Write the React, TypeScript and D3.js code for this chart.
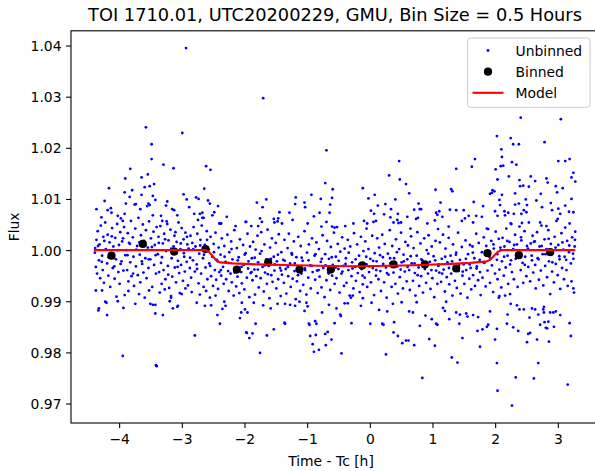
import React from 'react';
import * as d3 from 'd3';

const chartTitle = 'TOI 1710.01, UTC20200229, GMU, Bin Size = 0.5 Hours';
const xLabel = 'Time - Tc [h]';
const yLabel = 'Flux';
const xTicks = [-4, -3, -2, -1, 0, 1, 2, 3];
const yTicks = [0.97, 0.98, 0.99, 1.0, 1.01, 1.02, 1.03, 1.04];
const legendLabels = ['Unbinned', 'Binned', 'Model'];

const binTime = [-4.13, -3.63, -3.13, -2.63, -2.13, -1.63, -1.13, -0.63, -0.13, 0.37, 0.87, 1.37, 1.87, 2.37, 2.87];
const binFlux = [0.9990, 1.0013, 0.9998, 1.0003, 0.9963, 0.9977, 0.9963, 0.9963, 0.9971, 0.9973, 0.9973, 0.9965, 0.9995, 0.9991, 0.9997];

const modelTime = [-4.41, -2.64, -2.58, -2.52, -2.46, -2.40, -2.2, -1.8, -1.2, -0.6, -0.26, 0.1, 0.7, 1.3, 1.6, 1.86, 1.92, 1.98, 2.04, 2.10, 2.14, 3.27];
const modelFlux = [1.0001, 1.0001, 0.9998, 0.9990, 0.9981, 0.9977, 0.9975, 0.9973, 0.99715, 0.9970, 0.99695, 0.9970, 0.99715, 0.9974, 0.9976, 0.9979, 0.9983, 0.9991, 0.9998, 1.0001, 1.0001, 1.0001];

const unbinned: [number, number][] = [
  // -4.4 .. -3.9
  [-4.17,1.0122],[-3.92,1.0114],[-4.24,1.0097],[-4.37,1.0081],[-4.14,1.0083],[-4.19,1.0079],[-4.13,1.0074],[-4.29,1.0065],[-4.03,1.0068],[-3.98,1.0063],[-3.92,1.0072],[-3.95,1.0058],[-3.91,1.0141],[-3.90,1.0092],
  [-3.95,0.9794],[-4.20,0.9874],[-4.33,0.9887],[-4.34,0.9883],[-3.94,0.9888],[-3.92,0.9913],[-4.23,0.9900],[-4.21,0.9898],[-4.05,0.9910],[-4.03,0.9901],[-4.38,0.9922],[-4.28,0.9922],
  [-4.39,1.0005],[-4.38,0.9968],[-4.37,1.0021],[-4.36,0.9955],[-4.35,1.0038],[-4.33,0.9981],[-4.32,1.0012],[-4.31,0.9946],[-4.30,1.0049],[-4.28,0.9990],[-4.27,0.9962],[-4.26,1.0027],[-4.25,0.9937],[-4.23,1.0055],[-4.22,1.0003],[-4.20,0.9975],[-4.19,1.0031],[-4.18,0.9951],[-4.16,1.0016],[-4.15,0.9929],[-4.13,0.9993],[-4.12,1.0044],[-4.11,0.9966],[-4.10,1.0008],[-4.08,0.9945],[-4.07,1.0025],[-4.06,0.9983],[-4.04,1.0052],[-4.02,0.9958],[-4.01,1.0011],[-4.00,0.9935],[-3.99,1.0036],[-3.97,0.9979],[-3.96,1.0018],[-3.94,0.9961],[-3.93,1.0046],[-3.91,0.9991],
  // -3.9 .. -3.4
  [-3.83,1.0160],[-3.80,1.0118],[-3.65,1.0143],[-3.55,1.0149],[-3.60,1.0124],[-3.52,1.0126],[-3.45,1.0130],[-3.84,1.0105],[-3.65,1.0109],[-3.47,1.0107],[-3.43,1.0099],[-3.76,1.0090],[-3.74,1.0091],[-3.54,1.0092],[-3.52,1.0089],[-3.56,1.0087],[-3.67,1.0081],[-3.47,1.0069],[-3.58,1.0241],[-3.49,1.0208],[-3.49,1.0179],
  [-3.41,0.9774],[-3.42,0.9776],[-3.43,0.9877],[-3.75,0.9896],[-3.51,0.9896],[-3.47,0.9894],[-3.43,0.9894],
  [-3.89,1.0001],[-3.88,0.9962],[-3.87,1.0034],[-3.86,0.9940],[-3.85,1.0015],[-3.83,0.9977],[-3.82,1.0058],[-3.81,0.9950],[-3.79,1.0026],[-3.78,0.9988],[-3.77,0.9931],[-3.75,1.0043],[-3.74,0.9969],[-3.72,1.0009],[-3.71,0.9952],[-3.70,1.0064],[-3.68,0.9992],[-3.67,0.9938],[-3.66,1.0030],[-3.64,0.9974],[-3.63,1.0051],[-3.62,0.9957],[-3.61,1.0019],[-3.59,0.9985],[-3.58,1.0040],[-3.57,0.9946],[-3.55,1.0006],[-3.54,0.9966],[-3.53,1.0057],[-3.51,0.9983],[-3.50,1.0024],[-3.48,0.9929],[-3.46,1.0037],[-3.45,0.9972],[-3.44,1.0011],[-3.42,0.9955],[-3.41,1.0046],
  [-3.86,0.9921],[-3.69,0.9915],[-3.60,0.9908],[-3.53,0.9922],
  // -3.4 .. -2.9
  [-3.30,1.0168],[-3.14,1.0161],[-3.24,1.0096],[-3.26,1.0088],[-3.16,1.0081],[-3.13,1.0079],[-3.34,1.0068],[-3.32,1.0058],[-3.25,1.0057],[-3.08,1.0069],[-3.00,1.0230],[-2.94,1.0396],[-2.98,1.0110],[-2.93,1.0100],
  [-3.31,0.9874],[-3.18,0.9908],[-3.18,0.9911],[-3.20,0.9901],[-3.08,0.9890],[-3.07,0.9892],[-3.15,0.9887],[-3.01,0.9915],
  [-3.39,0.9993],[-3.38,1.0027],[-3.37,0.9958],[-3.35,1.0048],[-3.34,0.9976],[-3.33,0.9935],[-3.31,1.0014],[-3.30,0.9962],[-3.29,1.0033],[-3.27,0.9944],[-3.26,0.9999],[-3.24,1.0052],[-3.23,0.9970],[-3.22,1.0020],[-3.21,0.9927],[-3.19,1.0041],[-3.17,0.9985],[-3.16,0.9949],[-3.14,1.0008],[-3.12,0.9967],[-3.11,1.0036],[-3.10,0.9938],[-3.09,1.0017],[-3.07,0.9980],[-3.06,1.0055],[-3.05,0.9956],[-3.03,1.0003],[-3.02,0.9972],[-3.01,1.0044],[-2.99,0.9941],[-2.98,1.0022],[-2.97,0.9988],[-2.96,0.9959],[-2.95,1.0035],[-2.93,0.9978],[-2.92,1.0012],[-2.91,0.9932],
  [-3.36,0.9918],[-3.28,0.9924],[-3.04,0.9917],[-2.95,0.9926],
  // -2.9 .. -2.4
  [-2.62,1.0165],[-2.55,1.0158],[-2.65,1.0121],[-2.78,1.0104],[-2.74,1.0101],[-2.59,1.0098],[-2.56,1.0092],[-2.43,1.0087],[-2.89,1.0085],[-2.81,1.0072],[-2.72,1.0072],[-2.68,1.0074],[-2.68,1.0064],[-2.66,1.0064],[-2.75,1.0060],[-2.49,1.0075],[-2.52,1.0069],[-2.41,1.0053],
  [-2.80,0.9834],[-2.40,0.9857],[-2.44,0.9874],[-2.77,0.9898],[-2.64,0.9892],[-2.56,0.9908],[-2.54,0.9893],
  [-2.90,1.0004],[-2.88,0.9966],[-2.87,1.0029],[-2.86,0.9947],[-2.84,1.0015],[-2.83,0.9981],[-2.82,1.0046],[-2.80,0.9959],[-2.79,1.0008],[-2.77,0.9973],[-2.76,1.0033],[-2.74,0.9936],[-2.73,0.9994],[-2.71,1.0021],[-2.70,0.9955],[-2.69,1.0049],[-2.67,0.9985],[-2.66,0.9929],[-2.64,1.0011],[-2.63,0.9967],[-2.61,1.0038],[-2.60,0.9944],[-2.58,1.0002],[-2.57,0.9975],[-2.55,1.0027],[-2.54,0.9950],[-2.52,0.9988],[-2.51,0.9931],[-2.50,1.0013],[-2.48,0.9962],[-2.47,1.0035],[-2.46,0.9943],[-2.45,0.9982],[-2.43,0.9925],[-2.42,1.0006],[-2.41,0.9958],
  [-2.85,0.9919],[-2.72,0.9914],[-2.62,0.9921],[-2.47,0.9912],
  // -2.4 .. -1.9
  [-2.29,1.0066],[-2.39,1.0053],[-2.15,1.0048],[-1.99,1.0056],[-2.38,1.0053],[-1.98,1.0056],
  [-2.33,0.9900],[-2.31,0.9892],[-2.36,0.9886],[-2.05,0.9898],[-2.00,0.9885],[-2.06,0.9879],[-2.08,0.9868],[-1.98,0.9840],[-1.93,0.9829],[-1.97,0.9839],[-1.96,0.9879],
  [-2.39,0.9992],[-2.38,0.9951],[-2.37,1.0024],[-2.35,0.9968],[-2.34,0.9935],[-2.33,1.0009],[-2.31,0.9978],[-2.30,0.9944],[-2.28,1.0031],[-2.27,0.9960],[-2.26,0.9921],[-2.25,0.9997],[-2.23,0.9955],[-2.22,1.0018],[-2.21,0.9938],[-2.20,0.9983],[-2.18,0.9912],[-2.17,1.0040],[-2.16,0.9966],[-2.14,0.9930],[-2.13,1.0005],[-2.12,0.9949],[-2.10,0.9987],[-2.09,0.9917],[-2.08,1.0022],[-2.06,0.9958],[-2.05,0.9936],[-2.03,1.0011],[-2.02,0.9972],[-2.01,0.9924],[-1.99,0.9995],[-1.97,0.9947],[-1.96,1.0033],[-1.95,0.9965],[-1.93,0.9909],[-1.92,1.0008],[-1.91,0.9956],
  // -1.9 .. -1.4
  [-1.71,1.0298],[-1.90,1.0048],[-1.79,1.0048],[-1.73,1.0056],[-1.81,1.0094],[-1.72,1.0085],[-1.66,1.0100],[-1.45,1.0075],[-1.76,1.0063],[-1.54,1.0062],[-1.47,1.0063],[-1.53,1.0055],[-1.48,1.0057],[-1.41,1.0053],
  [-1.76,0.9800],[-1.88,0.9838],[-1.65,0.9834],[-1.54,0.9846],[-1.83,0.9857],[-1.36,0.9857],[-1.37,0.9859],
  [-1.89,0.9985],[-1.88,0.9942],[-1.87,1.0017],[-1.85,0.9963],[-1.84,0.9914],[-1.83,1.0002],[-1.82,0.9950],[-1.80,1.0029],[-1.79,0.9977],[-1.78,0.9928],[-1.76,0.9994],[-1.75,0.9946],[-1.74,1.0036],[-1.72,0.9968],[-1.70,0.9920],[-1.69,1.0012],[-1.68,0.9957],[-1.66,0.9983],[-1.65,0.9935],[-1.64,1.0041],[-1.62,0.9970],[-1.61,0.9907],[-1.60,1.0006],[-1.58,0.9952],[-1.57,1.0024],[-1.56,0.9939],[-1.54,0.9988],[-1.53,0.9961],[-1.51,1.0015],[-1.50,0.9926],[-1.49,0.9979],[-1.47,0.9944],[-1.46,1.0032],[-1.44,0.9966],[-1.43,0.9911],[-1.42,0.9997],[-1.41,0.9953],
  [-1.86,0.9898],[-1.71,0.9893],[-1.59,0.9887],[-1.48,0.9896],
  // -1.4 .. -0.9
  [-1.29,1.0074],[-1.19,1.0104],[-1.20,1.0091],[-1.05,1.0094],[-1.04,1.0085],[-0.94,1.0109],[-1.24,1.0060],[-0.90,1.0067],[-1.00,1.0053],
  [-0.90,0.9802],[-0.92,0.9817],[-0.87,0.9835],[-0.96,0.9833],[-0.88,0.9862],[-0.98,0.9857],[-0.97,0.9855],
  [-1.20,0.9892],[-1.28,0.9894],[-1.13,0.9900],[-1.02,0.9898],[-1.00,0.9891],[-1.05,0.9882],[-1.36,0.9896],
  [-1.39,0.9982],[-1.38,0.9937],[-1.37,1.0021],[-1.35,0.9964],[-1.34,0.9916],[-1.32,1.0005],[-1.31,0.9950],[-1.30,1.0033],[-1.28,0.9975],[-1.27,0.9929],[-1.25,0.9992],[-1.24,0.9945],[-1.22,1.0018],[-1.21,0.9960],[-1.19,0.9905],[-1.18,0.9987],[-1.17,0.9940],[-1.15,1.0027],[-1.14,0.9969],[-1.12,0.9921],[-1.11,1.0009],[-1.10,0.9955],[-1.08,0.9980],[-1.07,0.9933],[-1.05,1.0038],[-1.04,0.9962],[-1.02,0.9914],[-1.01,0.9996],[-0.99,0.9947],[-0.98,1.0012],[-0.96,0.9971],[-0.95,0.9926],[-0.93,1.0024],[-0.92,0.9958],
  // -0.9 .. -0.4
  [-0.70,1.0196],[-0.72,1.0132],[-0.60,1.0120],[-0.61,1.0103],[-0.79,1.0101],[-0.64,1.0090],[-0.81,1.0074],[-0.65,1.0074],[-0.78,1.0047],[-0.70,1.0056],[-0.61,1.0047],[-0.57,1.0045],[-0.53,1.0046],[-0.40,1.0048],
  [-0.82,0.9806],[-0.71,0.9815],[-0.62,0.9826],[-0.68,0.9841],[-0.72,0.9837],[-0.86,0.9857],[-0.57,0.9858],[-0.46,0.9799],
  [-0.77,0.9879],[-0.66,0.9894],[-0.54,0.9887],[-0.48,0.9875],[-0.47,0.9872],
  [-0.89,0.9990],[-0.88,0.9943],[-0.86,1.0016],[-0.85,0.9961],[-0.84,0.9917],[-0.82,1.0003],[-0.81,0.9949],[-0.79,0.9978],[-0.78,0.9928],[-0.76,1.0030],[-0.75,0.9966],[-0.73,0.9909],[-0.72,0.9993],[-0.70,0.9942],[-0.69,1.0019],[-0.67,0.9957],[-0.66,0.9984],[-0.64,0.9923],[-0.63,1.0007],[-0.61,0.9951],[-0.60,0.9972],[-0.58,1.0035],[-0.57,0.9935],[-0.55,0.9988],[-0.54,0.9946],[-0.52,1.0013],[-0.51,0.9964],[-0.49,0.9918],[-0.48,0.9998],[-0.46,0.9955],[-0.45,1.0026],[-0.43,0.9970],[-0.42,0.9931],[-0.41,1.0004],
  // -0.4 .. 0.1
  [-0.12,1.0122],[-0.03,1.0102],[0.07,1.0109],[0.01,1.0078],[0.06,1.0072],[-0.27,1.0053],[-0.10,1.0058],[-0.05,1.0053],[-0.06,1.0043],[0.05,1.0056],[0.09,1.0058],
  [-0.30,0.9858],[0.00,0.9857],
  [-0.36,0.9897],[-0.41,0.9897],[-0.28,0.9912],[-0.31,0.9908],[-0.12,0.9907],[-0.15,0.9892],[0.02,0.9898],
  [-0.39,0.9985],[-0.38,0.9937],[-0.36,1.0021],[-0.35,0.9962],[-0.33,0.9912],[-0.32,1.0008],[-0.30,0.9950],[-0.29,0.9977],[-0.27,0.9926],[-0.26,1.0034],[-0.24,0.9968],[-0.23,0.9941],[-0.21,1.0012],[-0.20,0.9956],[-0.18,0.9990],[-0.17,0.9919],[-0.15,1.0027],[-0.14,0.9964],[-0.12,0.9934],[-0.11,0.9999],[-0.09,0.9947],[-0.08,1.0018],[-0.06,0.9973],[-0.05,0.9929],[-0.03,1.0003],[-0.02,0.9958],[0.00,0.9984],[0.01,0.9938],[0.03,1.0029],[0.04,0.9966],[0.06,0.9913],[0.07,0.9995],[0.09,0.9951],
  // 0.1 .. 0.6
  [0.46,1.0175],[0.30,1.0147],[0.47,1.0139],[0.57,1.0130],[0.24,1.0091],[0.12,1.0088],[0.40,1.0100],[0.33,1.0081],[0.44,1.0072],[0.22,1.0071],[0.32,1.0065],[0.37,1.0055],[0.43,1.0060],[0.45,1.0054],[0.49,1.0055],[0.59,1.0066],
  [0.25,0.9797],[0.19,0.9857],[0.21,0.9855],[0.37,0.9840],[0.44,0.9833],[0.51,0.9819],[0.57,0.9824],
  [0.14,0.9884],[0.27,0.9881],[0.36,0.9896],[0.50,0.9899],[0.38,0.9860],
  [0.10,0.9979],[0.11,1.0024],[0.13,0.9944],[0.14,1.0006],[0.16,0.9960],[0.17,0.9921],[0.19,1.0031],[0.20,0.9987],[0.22,0.9938],[0.23,1.0013],[0.25,0.9967],[0.26,0.9908],[0.28,0.9994],[0.29,0.9953],[0.31,1.0040],[0.32,0.9975],[0.34,0.9929],[0.35,1.0009],[0.37,0.9957],[0.38,0.9985],[0.40,0.9935],[0.41,1.0022],[0.43,0.9969],[0.44,0.9916],[0.46,1.0003],[0.47,0.9948],[0.49,1.0035],[0.50,0.9977],[0.52,0.9926],[0.53,0.9992],[0.55,0.9959],[0.56,1.0017],[0.58,0.9940],[0.59,0.9983],
  // 0.6 .. 1.1
  [0.62,1.0112],[0.77,1.0092],[0.70,1.0080],[0.81,1.0081],[1.04,1.0119],[0.79,1.0081],[0.91,1.0053],[1.03,1.0059],[1.10,1.0077],[1.05,1.0074],[1.07,1.0070],[0.73,1.0062],[0.76,1.0064],[0.64,1.0043],
  [0.70,0.9815],[0.83,0.9751],[1.03,0.9814],[0.94,0.9827],[0.61,0.9824],
  [0.62,0.9881],[0.68,0.9879],[0.74,0.9899],[0.88,0.9873],[0.98,0.9866],[1.05,0.9857],[1.07,0.9855],[0.79,0.9853],
  [0.60,1.0010],[0.62,0.9962],[0.63,0.9923],[0.65,1.0028],[0.66,0.9975],[0.68,0.9941],[0.69,1.0005],[0.71,0.9956],[0.72,0.9912],[0.74,0.9990],[0.75,1.0036],[0.77,0.9967],[0.78,0.9931],[0.80,1.0014],[0.81,0.9950],[0.83,0.9981],[0.84,0.9918],[0.86,1.0024],[0.87,0.9964],[0.89,0.9937],[0.90,1.0001],[0.92,0.9955],[0.93,1.0030],[0.95,0.9978],[0.96,0.9925],[0.98,1.0008],[0.99,0.9946],[1.01,0.9989],[1.02,0.9909],[1.04,1.0019],[1.05,0.9961],[1.07,0.9935],[1.08,1.0042],[1.09,0.9973],
  // 1.1 .. 1.6
  [1.37,1.0160],[1.29,1.0120],[1.31,1.0116],[1.12,1.0094],[1.37,1.0079],[1.27,1.0080],[1.49,1.0079],[1.25,1.0047],[1.46,1.0058],[1.51,1.0063],[1.57,1.0068],[1.15,1.0066],
  [1.30,0.9791],[1.39,0.9781],[1.47,0.9829],
  [1.26,0.9866],[1.37,0.9879],[1.43,0.9875],[1.53,0.9877],[1.55,0.9871],[1.42,0.9857],[1.19,0.9882],[1.16,0.9888],[1.21,0.9900],
  [1.10,0.9957],[1.11,1.0016],[1.13,0.9939],[1.14,0.9984],[1.16,1.0031],[1.17,0.9963],[1.19,0.9920],[1.20,1.0004],[1.22,0.9948],[1.23,0.9977],[1.25,1.0025],[1.26,0.9934],[1.28,0.9990],[1.29,0.9955],[1.31,0.9912],[1.32,1.0012],[1.34,0.9969],[1.35,0.9941],[1.37,0.9996],[1.38,0.9927],[1.40,1.0035],[1.41,0.9960],[1.43,0.9982],[1.44,0.9916],[1.46,1.0007],[1.47,0.9951],[1.49,0.9973],[1.50,0.9935],[1.52,1.0020],[1.53,0.9962],[1.55,0.9908],[1.56,0.9993],[1.58,0.9945],[1.59,1.0011],
  // 1.6 .. 2.1
  [1.67,1.0179],[1.62,1.0164],[2.02,1.0224],[2.09,1.0198],[2.10,1.0183],[2.00,1.0159],[2.08,1.0165],[2.03,1.0139],[1.95,1.0118],[1.98,1.0116],[1.91,1.0111],[1.94,1.0113],[2.10,1.0109],
  [1.65,1.0095],[1.80,1.0087],[1.99,1.0077],[2.06,1.0099],[2.07,1.0089],[2.03,1.0068],[1.69,1.0068],[1.86,1.0043],[1.64,1.0055],[1.78,1.0066],
  [1.75,0.9812],[2.03,0.9726],[2.02,0.9780],[1.99,0.9826],
  [1.71,0.9843],[1.79,0.9846],[1.88,0.9855],[1.86,0.9851],[2.02,0.9847],[2.06,0.9911],[2.05,0.9908],[1.64,0.9874],[1.72,0.9870],[1.91,0.9881],
  [1.60,0.9966],[1.61,0.9924],[1.63,1.0008],[1.64,0.9952],[1.66,0.9985],[1.67,0.9931],[1.69,1.0033],[1.70,0.9969],[1.72,0.9942],[1.73,1.0015],[1.75,0.9958],[1.76,0.9913],[1.78,0.9997],[1.79,0.9947],[1.81,1.0026],[1.82,0.9976],[1.84,0.9930],[1.85,1.0009],[1.87,0.9961],[1.88,1.0042],[1.90,0.9988],[1.91,0.9937],[1.93,1.0019],[1.94,0.9971],[1.96,0.9919],[1.97,1.0004],[1.99,0.9955],[2.00,1.0037],[2.02,0.9982],[2.03,0.9944],[2.05,1.0023],[2.06,0.9963],[2.08,1.0001],[2.09,0.9928],
  // 2.1 .. 2.6
  [2.40,1.0260],[2.24,1.0220],[2.28,1.0208],[2.37,1.0208],[2.26,1.0173],[2.33,1.0168],[2.21,1.0145],[2.31,1.0112],[2.12,1.0166],
  [2.14,1.0077],[2.20,1.0074],[2.15,1.0069],[2.31,1.0090],[2.37,1.0092],[2.48,1.0100],[2.50,1.0089],[2.45,1.0079],[2.49,1.0075],[2.41,1.0072],[2.29,1.0072],[2.39,1.0126],[2.44,1.0127],[2.38,1.0138],[2.56,1.0145],[2.53,1.0125],[2.24,1.0053],[2.42,1.0054],
  [2.26,0.9697],[2.32,0.9752],[2.50,0.9821],
  [2.18,0.9857],[2.28,0.9850],[2.36,0.9843],[2.52,0.9837],[2.55,0.9839],[2.19,0.9875],[2.24,0.9896],[2.23,0.9915],[2.15,0.9912],[2.34,0.9893],[2.38,0.9885],[2.45,0.9885],[2.54,0.9869],[2.58,0.9887],
  [2.10,0.9979],[2.11,1.0025],[2.13,0.9951],[2.14,1.0008],[2.16,0.9967],[2.17,1.0043],[2.19,0.9990],[2.20,0.9935],[2.22,1.0017],[2.23,0.9973],[2.25,1.0052],[2.26,0.9958],[2.28,1.0003],[2.29,0.9944],[2.31,1.0031],[2.32,0.9984],[2.34,1.0012],[2.35,0.9929],[2.37,0.9996],[2.38,1.0047],[2.40,0.9962],[2.41,1.0020],[2.43,0.9976],[2.44,0.9937],[2.46,1.0038],[2.47,0.9988],[2.49,0.9950],[2.50,1.0009],[2.52,0.9968],[2.53,1.0055],[2.55,0.9940],[2.56,1.0014],[2.58,0.9981],[2.59,1.0029],
  // 2.6 .. 3.1
  [2.78,1.0212],[3.04,1.0257],[3.00,1.0175],
  [2.63,1.0136],[2.81,1.0141],[2.83,1.0133],[2.72,1.0111],[2.96,1.0126],[3.07,1.0122],[2.98,1.0114],[2.65,1.0098],[2.74,1.0085],[2.88,1.0093],[2.90,1.0079],[3.00,1.0082],[3.03,1.0072],[2.99,1.0062],[2.71,1.0055],[2.81,1.0048],
  [3.15,0.9738],[2.61,0.9750],[2.68,0.9780],[2.85,0.9822],[2.66,0.9826],[3.20,0.9833],[3.18,0.9858],
  [2.71,0.9855],[2.78,0.9860],[2.80,0.9849],[2.82,0.9848],[2.84,0.9861],[2.93,0.9851],[3.03,0.9874],[2.96,0.9881],[2.92,0.9879],[2.87,0.9879],[2.77,0.9890],[2.76,0.9885],[2.77,0.9879],[2.68,0.9875],[2.63,0.9885],
  [2.60,0.9957],[2.61,1.0017],[2.63,0.9972],[2.64,0.9926],[2.66,1.0036],[2.67,0.9985],[2.69,0.9943],[2.70,1.0008],[2.72,0.9961],[2.73,1.0049],[2.75,0.9993],[2.76,0.9932],[2.78,1.0022],[2.79,0.9970],[2.81,1.0003],[2.82,0.9948],[2.84,1.0040],[2.85,0.9979],[2.87,0.9915],[2.88,1.0013],[2.90,0.9959],[2.91,0.9996],[2.93,0.9938],[2.94,1.0027],[2.96,0.9974],[2.97,1.0058],[2.99,0.9952],[3.00,1.0011],[3.02,0.9983],[3.03,0.9925],[3.05,1.0034],[3.06,0.9966],[3.08,1.0002],[3.09,0.9944],
  // 3.1 .. 3.27
  [3.11,1.0175],[3.18,1.0179],[3.24,1.0152],[3.21,1.0143],[3.27,1.0135],[3.11,1.0088],[3.17,1.0076],[3.24,1.0075],[3.21,1.0101],
  [3.24,0.9926],
  [3.10,0.9988],[3.11,1.0045],[3.13,0.9962],[3.14,1.0019],[3.15,0.9931],[3.17,0.9997],[3.18,1.0053],[3.20,0.9975],[3.21,0.9940],[3.22,1.0026],[3.24,0.9984],[3.25,0.9918],[3.26,1.0008],[3.27,1.0037],
  // additional core points, out of transit (pre)
  [-4.395,0.9996],[-4.345,1.0009],[-4.285,0.9978],[-4.245,1.0019],[-4.175,0.9987],[-4.125,1.0028],[-4.085,0.9969],[-4.035,1.0001],[-3.985,0.9974],[-3.945,1.0024],[-3.875,0.9991],[-3.835,1.0013],[-3.785,0.9955],[-3.735,1.0002],[-3.685,1.0016],[-3.645,0.9979],[-3.585,1.0011],[-3.535,0.9983],[-3.485,1.0007],[-3.425,0.9991],[-3.375,1.0015],[-3.325,0.9987],[-3.275,1.0022],[-3.225,0.9953],[-3.175,1.0004],[-3.125,1.0029],[-3.075,0.9968],[-3.025,1.0014],[-2.975,0.9995],[-2.925,1.0027],[-2.875,0.9986],[-2.825,1.0003],[-2.765,0.9964],[-2.715,1.0010],[-2.655,0.9992],[-2.605,1.0021],
  // additional core points, in transit
  [-2.555,0.9970],[-2.495,0.9997],[-2.435,0.9979],[-2.385,0.9962],[-2.325,0.9988],[-2.265,0.9976],[-2.215,1.0003],[-2.165,0.9957],[-2.115,0.9981],[-2.055,0.9968],[-2.005,0.9992],[-1.945,0.9979],[-1.895,0.9958],[-1.845,0.9986],[-1.795,0.9963],[-1.735,0.9999],[-1.685,0.9971],[-1.635,0.9954],[-1.585,0.9984],[-1.525,0.9973],[-1.475,0.9992],[-1.425,0.9961],[-1.365,0.9980],[-1.315,0.9968],[-1.255,0.9995],[-1.205,0.9975],[-1.155,0.9952],[-1.095,0.9986],[-1.045,0.9965],[-0.985,0.9981],[-0.935,0.9970],[-0.875,0.9993],[-0.825,0.9962],[-0.775,0.9984],[-0.715,0.9971],[-0.665,0.9955],[-0.615,0.9987],[-0.555,0.9967],[-0.505,0.9980],[-0.445,0.9959],[-0.395,0.9974],[-0.345,0.9996],[-0.285,0.9965],[-0.235,0.9983],[-0.175,0.9972],[-0.125,0.9951],[-0.065,0.9988],[-0.015,0.9969],[0.045,0.9980],[0.095,0.9962],[0.155,0.9991],[0.205,0.9974],[0.265,0.9956],[0.315,0.9985],[0.375,0.9970],[0.425,0.9997],[0.485,0.9963],[0.535,0.9979],[0.595,0.9968],[0.645,0.9989],[0.705,0.9975],[0.755,0.9952],[0.815,0.9983],[0.865,0.9971],[0.925,0.9994],[0.975,0.9962],[1.035,0.9981],[1.085,0.9970],[1.145,0.9955],[1.195,0.9988],[1.255,0.9966],[1.305,0.9979],[1.365,0.9992],[1.415,0.9971],[1.475,0.9959],[1.525,0.9984],[1.585,0.9973],[1.635,0.9996],[1.695,0.9965],[1.745,0.9982],[1.805,0.9977],[1.855,0.9995],
  // additional core points, out of transit (post)
  [1.915,0.9984],[1.965,1.0012],[2.025,0.9993],[2.075,1.0006],[2.135,0.9988],[2.185,1.0019],[2.245,0.9981],[2.295,1.0011],[2.355,0.9995],[2.405,1.0026],[2.465,0.9972],[2.515,1.0004],[2.575,0.9990],[2.625,1.0018],[2.685,0.9983],[2.735,1.0009],[2.795,0.9993],[2.845,1.0023],[2.905,0.9977],[2.955,1.0006],[3.015,0.9989],[3.065,1.0016],[3.125,0.9982],[3.175,1.0010],[3.235,0.9994],[3.265,1.0021],
];

const FONT = '"DejaVu Sans", sans-serif';

export default function App() {
  const W = 595;
  const H = 471;
  const left = 71;
  const right = 597;
  const top = 30.8;
  const bottom = 423;

  const x = d3.scaleLinear().domain([-4.776, 3.617]).range([left, right]);
  const y = d3.scaleLinear().domain([0.96629, 1.04298]).range([bottom, top]);

  const modelPts: [number, number][] = modelTime.map((t, i) => [t, modelFlux[i]]);
  const line = d3.line<[number, number]>().x(d => x(d[0])).y(d => y(d[1]));

  const fmtX = (t: number) => (t < 0 ? '\u2212' + Math.abs(t) : String(t));
  const fmtY = d3.format('.2f');

  const lgX = 467.5, lgY = 38, lgW = 122.5, lgH = 69.3;
  const rowY = [50.5, 71.7, 92.8];
  const handleX0 = 472.5, handleX1 = 503.5, handleC = 488;
  const textX = 515.5;
  const dotR = 1.4;

  return (
    <svg width={W} height={H} style={{ position: 'absolute', left: 0, top: 0, background: '#fff' }} fontFamily={FONT}>
      <rect x={0} y={0} width={W} height={H} fill="#fff" />
      <defs>
        <clipPath id="plotclip">
          <rect x={left} y={top} width={right - left} height={bottom - top} />
        </clipPath>
      </defs>
      <g clipPath="url(#plotclip)">
        {unbinned.map((d, i) => (
          <circle key={i} cx={x(d[0])} cy={y(d[1])} r={dotR} fill="#0000ff" />
        ))}
        {binTime.map((t, i) => (
          <circle key={'b' + i} cx={x(t)} cy={y(binFlux[i])} r={4.1} fill="#000" />
        ))}
        <path d={line(modelPts) || ''} fill="none" stroke="#ff0000" strokeWidth={2.1} strokeLinejoin="round" />
      </g>
      <rect x={left} y={top} width={right - left} height={bottom - top} fill="none" stroke="#000" strokeWidth={1.1} />
      {xTicks.map(t => (
        <g key={'xt' + t}>
          <line x1={x(t)} x2={x(t)} y1={bottom} y2={bottom + 4.9} stroke="#000" strokeWidth={1.1} />
          <text x={x(t)} y={bottom + 20.5} fontSize={13.9} textAnchor="middle" fill="#000">{fmtX(t)}</text>
        </g>
      ))}
      {yTicks.map(v => (
        <g key={'yt' + v}>
          <line x1={left - 4.9} x2={left} y1={y(v)} y2={y(v)} stroke="#000" strokeWidth={1.1} />
          <text x={left - 9.5} y={y(v)} dy="0.36em" fontSize={13.9} textAnchor="end" fill="#000">{fmtY(v)}</text>
        </g>
      ))}
      <text x={(left + right) / 2 - 3} y={466} fontSize={13.9} textAnchor="middle" fill="#000">{xLabel}</text>
      <text transform={`translate(19,${(top + bottom) / 2}) rotate(-90)`} fontSize={13.9} textAnchor="middle" fill="#000">{yLabel}</text>
      <text x={(left + right) / 2 + 1} y={21} fontSize={17.8} textAnchor="middle" fill="#000">{chartTitle}</text>
      <rect x={lgX} y={lgY} width={lgW} height={lgH} rx={2.8} fill="#fff" fillOpacity={0.8} stroke="#cccccc" strokeWidth={1} />
      <circle cx={handleC} cy={rowY[0]} r={dotR} fill="#0000ff" />
      <circle cx={handleC} cy={rowY[1]} r={4.1} fill="#000" />
      <line x1={handleX0} x2={handleX1} y1={rowY[2]} y2={rowY[2]} stroke="#ff0000" strokeWidth={2.1} />
      {legendLabels.map((l, i) => (
        <text key={l} x={textX} y={rowY[i]} dy="0.36em" fontSize={13.9} fill="#000">{l}</text>
      ))}
    </svg>
  );
}
